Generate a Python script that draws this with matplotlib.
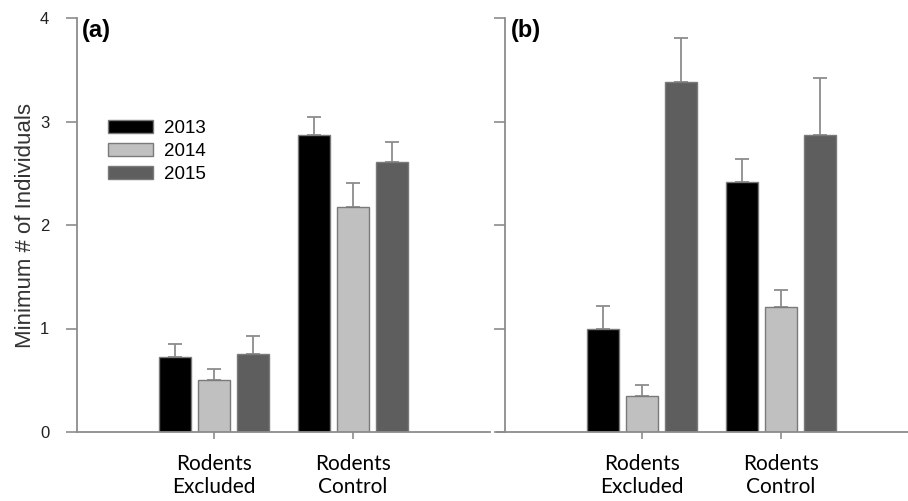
import matplotlib
import matplotlib.pyplot as plt
import numpy as np

# data
groups = ["Rodents\nExcluded", "Rodents\nControl"]
years = ["2013", "2014", "2015"]

a_means = [[0.72, 2.87], [0.50, 2.17], [0.75, 2.61]]
a_err = [[0.13, 0.17], [0.11, 0.24], [0.18, 0.19]]

b_means = [[1.00, 2.42], [0.35, 1.21], [3.38, 2.87]]
b_err = [[0.22, 0.22], [0.10, 0.16], [0.43, 0.55]]

colors = ["#000000", "#c0c0c0", "#5e5e5e"]
EDGE = "#7a7a7a"
AXC = "#8c8c8c"

W, H = 908, 501
fig = plt.figure(figsize=(W / 100, H / 100), dpi=100)


def px_axes(left, right, top, bottom):
    return fig.add_axes([left / W, 1 - bottom / H, (right - left) / W, (bottom - top) / H])


def draw_panel(ax, means, errs, xlim, spine_x):
    x = np.arange(len(groups))
    width = 0.23
    step = 0.28
    for i in range(len(years)):
        ax.bar(x + (i - 1) * step, means[i], width, color=colors[i], edgecolor=EDGE,
               linewidth=1.0, label=years[i], zorder=2)
        ax.errorbar(x + (i - 1) * step, means[i], yerr=[np.zeros(len(groups)), errs[i]],
                    fmt="none", ecolor=AXC, elinewidth=1.3, capsize=5, capthick=1.3, zorder=1)
    ax.set_xlim(*xlim)
    ax.set_ylim(0, 4)
    for s in ["top", "right"]:
        ax.spines[s].set_visible(False)
    for s in ["left", "bottom"]:
        ax.spines[s].set_color(AXC)
        ax.spines[s].set_linewidth(1.3)
    ax.spines["left"].set_position(("data", spine_x))
    ax.set_yticks([0, 1, 2, 3, 4])
    ax.set_xticks(x)
    ax.set_xticklabels(groups, family="Lato", fontsize=15, linespacing=1.15)
    ax.tick_params(axis="y", color=AXC, width=1.2, length=8, pad=12, direction="out")
    ax.tick_params(axis="x", color=AXC, width=1.2, length=5, pad=11, direction="out")
    ax.patch.set_visible(False)


# panel (a)
ax1 = px_axes(77, 490, 18, 432)
draw_panel(ax1, a_means, a_err, (-0.986, 1.986), -0.986)
ax1.set_yticklabels(["0", "1", "2", "3", "4"], family="Liberation Sans", fontsize=12,
                    color="#222222")
ax1.set_ylabel("Minimum # of Individuals", family="Liberation Sans", fontsize=16,
               color="#333333", labelpad=3)
ax1.text(82, H - 30, "(a)", transform=None, fontsize=17, fontweight="bold",
         family="Liberation Sans", va="center")
ax1.legend(loc="upper left", bbox_to_anchor=(108 / W, 1 - 120 / H),
           bbox_transform=fig.transFigure, frameon=False,
           handlelength=2.4, handleheight=0.7, labelspacing=0.3,
           handletextpad=0.6, borderpad=0, borderaxespad=0,
           prop={"family": "Liberation Sans", "size": 13.5})

# panel (b)
ax2 = px_axes(497, 908, 18, 432)
draw_panel(ax2, b_means, b_err, ((497 - 642) / 139, (908 - 642) / 139), -0.986)
ax2.set_yticklabels([])
ax2.text(511, H - 30, "(b)", transform=None, fontsize=17, fontweight="bold",
         family="Liberation Sans", va="center")

fig.savefig("out.png", dpi=100)
print("Done")
